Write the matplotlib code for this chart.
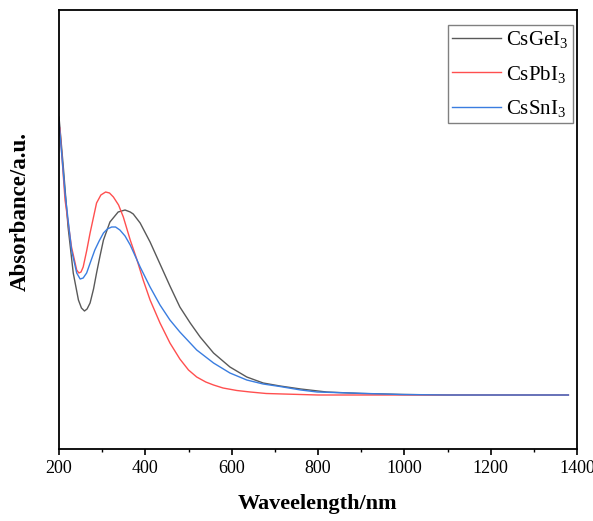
import numpy as np
import matplotlib
matplotlib.use('Agg')
import matplotlib.pyplot as plt
from matplotlib.ticker import MultipleLocator

plt.rcParams['font.family'] = ['Liberation Serif', 'DejaVu Serif']
plt.rcParams['mathtext.fontset'] = 'custom'
plt.rcParams['mathtext.rm'] = 'Liberation Serif'
plt.rcParams['mathtext.it'] = 'Liberation Serif:italic'
plt.rcParams['mathtext.bf'] = 'Liberation Serif:bold'

# wavelength (nm) / absorbance (a.u.)
ge_wl = [200, 210, 221, 233, 245, 252, 259, 265, 272, 280, 287, 295, 303, 318, 337, 353, 365, 372,
         388, 411, 434, 457, 480, 504, 527, 558, 596, 635, 673, 712, 760, 820, 900, 1000, 1100, 1200, 1300, 1380]
ge_abs = [2.78, 2.28, 1.68, 1.22, 0.95, 0.87, 0.84, 0.86, 0.92, 1.06, 1.22, 1.39, 1.55, 1.73, 1.83, 1.85, 1.83, 1.81,
          1.72, 1.53, 1.31, 1.09, 0.88, 0.72, 0.58, 0.42, 0.28, 0.18, 0.12, 0.09, 0.06, 0.03, 0.015, 0.005, 0.0, 0.0, 0.0, 0.0]

pb_wl = [202, 214, 229, 241, 246, 251, 256, 264, 272, 280, 287, 297, 308, 317, 326, 338, 349, 365, 380,
         395, 411, 434, 457, 480, 500, 519, 540, 558, 580, 612, 643, 680, 719, 800, 900, 1000, 1200, 1380]
pb_abs = [2.67, 1.95, 1.48, 1.25, 1.22, 1.23, 1.28, 1.44, 1.62, 1.78, 1.92, 2.0, 2.03, 2.02, 1.98, 1.90, 1.78, 1.55, 1.36,
          1.15, 0.95, 0.72, 0.52, 0.36, 0.25, 0.18, 0.13, 0.10, 0.07, 0.045, 0.03, 0.015, 0.01, 0.0, 0.0, 0.0, 0.0, 0.0]

sn_wl = [200, 214, 229, 241, 249, 256, 264, 273, 283, 293, 303, 312, 322, 331, 341, 353, 365, 388,
         411, 434, 457, 480, 519, 558, 596, 635, 673, 712, 760, 798, 874, 990, 1100, 1200, 1300, 1380]
sn_abs = [2.73, 2.02, 1.45, 1.22, 1.16, 1.17, 1.22, 1.33, 1.45, 1.54, 1.62, 1.66, 1.68, 1.68, 1.65, 1.59, 1.50, 1.28,
          1.08, 0.90, 0.75, 0.63, 0.45, 0.32, 0.22, 0.15, 0.11, 0.085, 0.05, 0.03, 0.02, 0.005, 0.0, 0.0, 0.0, 0.0]

fig = plt.figure(figsize=(5.93, 5.21), dpi=100)
fig.set_facecolor('white')
ax = fig.add_axes([59 / 593, 1 - 449 / 521, (577 - 59) / 593, (449 - 10) / 521])

ax.plot(ge_wl, ge_abs, color='#595959', lw=1.0, label='CsGeI$_3$')
ax.plot(pb_wl, pb_abs, color='#ff4f4f', lw=1.0, label='CsPbI$_3$')
ax.plot(sn_wl, sn_abs, color='#3a7de0', lw=1.0, label='CsSnI$_3$')

ax.set_xlim(200, 1400)
ax.set_ylim(-0.54, 3.85)
ax.xaxis.set_major_locator(MultipleLocator(200))
ax.xaxis.set_minor_locator(MultipleLocator(100))
ax.tick_params(axis='x', which='major', direction='out', length=4, width=1.2, labelsize=13, pad=4)
ax.tick_params(axis='x', which='minor', direction='out', length=2.5, width=1.0)
ax.set_yticks([])
for s in ax.spines.values():
    s.set_linewidth(1.3)

ax.set_xlabel('Waveelength/nm', fontsize=16, fontweight='bold', labelpad=12)
ax.set_ylabel('Absorbance/a.u.', fontsize=16.5, fontweight='bold')
ax.yaxis.set_label_coords(-0.055, 0.54)

leg = ax.legend(loc='upper right', bbox_to_anchor=(0.992, 0.966), borderaxespad=0,
                fontsize=15, fancybox=False, edgecolor='#808080', framealpha=1,
                handlelength=2.35, handletextpad=0.25, labelspacing=0.65, borderpad=0.2)
leg.get_frame().set_linewidth(1.0)

fig.savefig('out.png', dpi=100)
